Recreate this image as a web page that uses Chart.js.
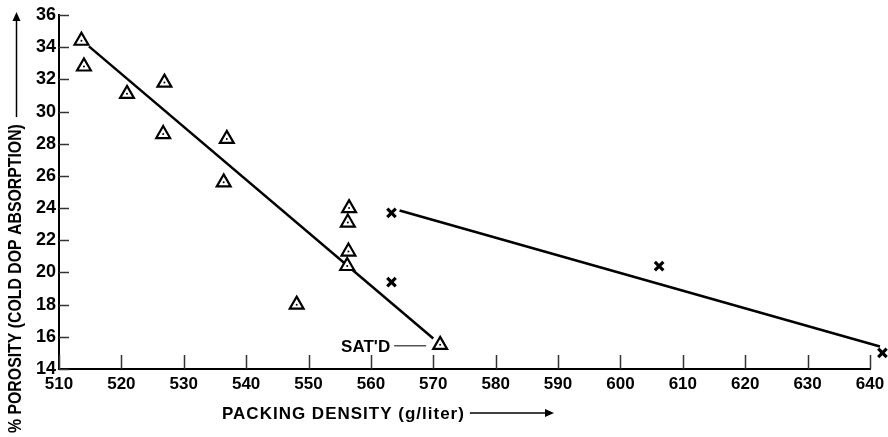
<!DOCTYPE html>
<html>
<head>
<meta charset="utf-8">
<title>Porosity vs packing density</title>
<script src="https://cdn.jsdelivr.net/npm/chart.js@4.4.1/dist/chart.umd.min.js"></script>
<style>
  html, body { margin: 0; padding: 0; background: #fff; }
  #wrap { width: 888px; height: 437px; }
</style>
</head>
<body>
<div id="wrap"><canvas id="chart" width="888" height="437"></canvas></div>
<script>
// Triangle series: porosity (cold DOP absorption, %) vs packing density (g/liter)
const triDensity  = [513.6, 514.0, 520.9, 526.9, 526.7, 536.9, 536.4, 548.1, 556.5, 556.3, 556.4, 556.2, 571.1];
const triPorosity = [34.4, 32.8, 31.1, 31.8, 28.6, 28.3, 25.6, 18.0, 24.0, 23.1, 21.3, 20.4, 15.5];

// Cross series
const crossDensity  = [563.3, 563.3, 606.2, 642.0];
const crossPorosity = [23.7, 19.4, 20.4, 15.0];

// Fitted lines (end points)
const fitTriDensity    = [514.8, 570.0];
const fitTriPorosity   = [34.05, 15.9];
const fitCrossDensity  = [564.6, 641.6];
const fitCrossPorosity = [23.85, 15.4];

// Axis ticks
const xTickValues = [510, 520, 530, 540, 550, 560, 570, 580, 590, 600, 610, 620, 630, 640];
const yTickValues = [14, 16, 18, 20, 22, 24, 26, 28, 30, 32, 34, 36];

// Annotation
const satLabel = "SAT'D";
const satIndex = triDensity.length - 1;

const xTitle = "PACKING DENSITY (g/liter)";
const yTitle = "% POROSITY (COLD DOP ABSORPTION)";

const pts = (xs, ys) => xs.map((x, i) => ({ x: x, y: ys[i] }));

Chart.defaults.font.family = "'Liberation Sans', Arial, sans-serif";
Chart.defaults.color = '#000';

function arrowHead(ctx, x, y, dir) {
  // dir: 'right' or 'up'
  ctx.beginPath();
  if (dir === 'right') {
    ctx.moveTo(x, y);
    ctx.lineTo(x - 9, y - 4);
    ctx.lineTo(x - 9, y + 4);
  } else {
    ctx.moveTo(x, y);
    ctx.lineTo(x - 4, y + 9);
    ctx.lineTo(x + 4, y + 9);
  }
  ctx.closePath();
  ctx.fill();
}

// Let the plot run almost to the right edge so the last cross fits past the 640 tick
const rightEdge = {
  id: 'rightEdge',
  afterLayout(chart) {
    const xs = chart.scales.x;
    const r = chart.width - 4;
    chart.chartArea.right = r;
    chart.chartArea.width = r - chart.chartArea.left;
    xs.right = r;
    xs.width = r - xs.left;
    xs.configure();
  }
};

// x axis line (ends at the last tick), inward tick marks, axis titles with arrows, SAT'D note
const decorations = {
  id: 'decorations',
  beforeDatasetsDraw(chart) {
    const ctx = chart.ctx;
    const xs = chart.scales.x, ys = chart.scales.y;
    const area = chart.chartArea;
    const xEnd = xs.getPixelForValue(xTickValues[xTickValues.length - 1]);
    ctx.save();
    ctx.strokeStyle = '#000';
    ctx.lineWidth = 2;
    ctx.beginPath();
    ctx.moveTo(area.left - 1, area.bottom);
    ctx.lineTo(xEnd + 1, area.bottom);
    ctx.stroke();

    ctx.strokeStyle = '#333';
    ctx.lineWidth = 1.5;
    yTickValues.forEach(v => {
      const py = Math.round(ys.getPixelForValue(v)) + 0.5;
      ctx.beginPath();
      ctx.moveTo(area.left, py);
      ctx.lineTo(area.left + 10, py);
      ctx.stroke();
    });
    xTickValues.forEach(v => {
      const px = Math.round(xs.getPixelForValue(v)) + 0.5;
      ctx.beginPath();
      ctx.moveTo(px, area.bottom);
      ctx.lineTo(px, area.bottom - 14);
      ctx.stroke();
    });
    ctx.restore();
  },
  afterDatasetsDraw(chart) {
    const ctx = chart.ctx;
    const xs = chart.scales.x, ys = chart.scales.y;
    ctx.save();

    // x axis title + arrow
    ctx.fillStyle = '#000';
    ctx.strokeStyle = '#000';
    ctx.font = "bold 17px 'Liberation Sans', Arial, sans-serif";
    ctx.letterSpacing = '1px';
    ctx.textAlign = 'left';
    ctx.textBaseline = 'middle';
    const tx = 222, ty = 414;
    ctx.fillText(xTitle, tx, ty);
    const tw = ctx.measureText(xTitle).width;
    ctx.lineWidth = 1.5;
    ctx.beginPath();
    ctx.moveTo(tx + tw + 5, ty - 1);
    ctx.lineTo(548, ty - 1);
    ctx.stroke();
    arrowHead(ctx, 554, ty - 1, 'right');

    // y axis title (rotated, narrow lettering) + arrow
    const squeeze = 0.88;
    ctx.save();
    ctx.translate(16, 433);
    ctx.rotate(-Math.PI / 2);
    ctx.scale(squeeze, 1);
    ctx.letterSpacing = '0px';
    ctx.font = "bold 18px 'Liberation Sans', Arial, sans-serif";
    ctx.fillText(yTitle, 0, 0);
    const yw = ctx.measureText(yTitle).width * squeeze;
    ctx.restore();
    ctx.lineWidth = 1.5;
    ctx.beginPath();
    ctx.moveTo(16.5, 433 - yw - 7);
    ctx.lineTo(16.5, 20);
    ctx.stroke();
    arrowHead(ctx, 16.5, 12, 'up');

    // SAT'D note with leader
    const sx = xs.getPixelForValue(triDensity[satIndex]);
    const sy = ys.getPixelForValue(triPorosity[satIndex]);
    ctx.letterSpacing = '0px';
    ctx.font = "bold 17px 'Liberation Sans', Arial, sans-serif";
    ctx.textAlign = 'right';
    ctx.fillText(satLabel, sx - 50, sy + 2);
    ctx.strokeStyle = '#555';
    ctx.lineWidth = 1.5;
    ctx.beginPath();
    ctx.moveTo(sx - 46, sy + 1);
    ctx.lineTo(sx - 14, sy + 1);
    ctx.stroke();

    ctx.restore();
  }
};

new Chart(document.getElementById('chart'), {
  type: 'scatter',
  data: {
    datasets: [
      {
        label: 'fit triangles',
        type: 'line',
        data: pts(fitTriDensity, fitTriPorosity),
        borderColor: '#000',
        borderWidth: 2.5,
        pointRadius: 0,
        fill: false,
        order: 5
      },
      {
        label: 'fit crosses',
        type: 'line',
        data: pts(fitCrossDensity, fitCrossPorosity),
        borderColor: '#000',
        borderWidth: 2.5,
        pointRadius: 0,
        fill: false,
        order: 5
      },
      {
        label: 'triangles',
        data: pts(triDensity, triPorosity),
        pointStyle: 'triangle',
        pointRadius: 8,
        pointHoverRadius: 8,
        borderWidth: 2.2,
        borderColor: '#000',
        backgroundColor: '#fff',
        order: 3
      },
      {
        label: 'triangle centres',
        data: pts(triDensity, triPorosity),
        pointStyle: 'circle',
        pointRadius: 1,
        borderWidth: 0,
        backgroundColor: '#000',
        order: 2
      },
      {
        label: 'crosses',
        data: pts(crossDensity, crossPorosity),
        pointStyle: 'crossRot',
        pointRadius: 6,
        pointHoverRadius: 6,
        borderWidth: 3.2,
        borderColor: '#000',
        clip: false,
        order: 1
      }
    ]
  },
  options: {
    responsive: false,
    animation: false,
    events: [],
    layout: { padding: { left: 0, top: 15, right: 4, bottom: 0 } },
    plugins: {
      legend: { display: false },
      tooltip: { enabled: false }
    },
    scales: {
      x: {
        type: 'linear',
        min: 510,
        max: 642.25,
        afterBuildTicks: s => { s.ticks = xTickValues.map(v => ({ value: v })); },
        afterFit: s => { s.height = 68; },
        grid: { display: false, drawTicks: false },
        border: { display: false },
        ticks: {
          padding: 5,
          maxRotation: 0,
          autoSkip: false,
          font: { size: 17, weight: 'bold' },
          color: '#000'
        }
      },
      y: {
        type: 'linear',
        min: 14,
        max: 36,
        afterBuildTicks: s => { s.ticks = yTickValues.map(v => ({ value: v })); },
        afterFit: s => { s.width = 59; },
        grid: { display: false, drawTicks: false },
        border: { display: true, color: '#000', width: 2 },
        ticks: {
          padding: 3,
          autoSkip: false,
          font: { size: 18, weight: 'bold' },
          color: '#000'
        }
      }
    }
  },
  plugins: [rightEdge, decorations]
});
</script>
</body>
</html>
